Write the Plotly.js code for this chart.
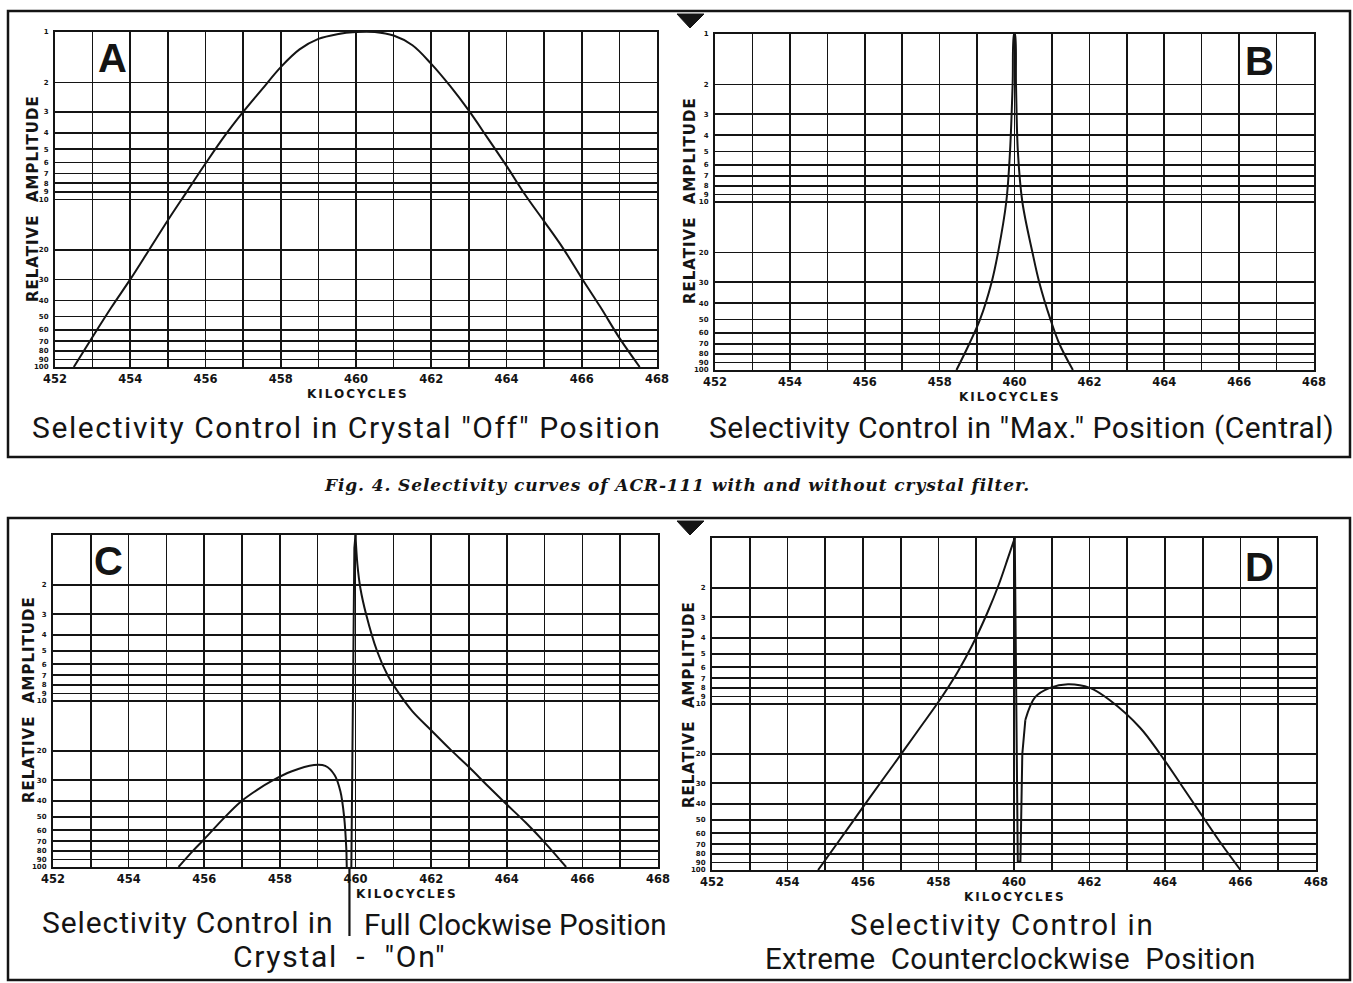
<!DOCTYPE html>
<html>
<head>
<meta charset="utf-8">
<script src="https://cdn.plot.ly/plotly-3.0.1.min.js"></script>
<style>
  html, body { margin: 0; padding: 0; background: #fff; }
  #chart { width: 1353px; height: 983px; }
</style>
</head>
<body>
<div id="chart"></div>
<script>
// ---------------- DATA ----------------
const xTickVals = [452, 454, 456, 458, 460, 462, 464, 466, 468];
const xTickText = ['452', '454', '456', '458', '460', '462', '464', '466', '468'];
const yTickVals = [1, 2, 3, 4, 5, 6, 7, 8, 9, 10, 20, 30, 40, 50, 60, 70, 80, 90, 100];
const yTickTextAB = ['1', '2', '3', '4', '5', '6', '7', '8', '9', '10', '20', '30', '40', '50', '60', '70', '80', '90', '100'];
const yTickTextCD = ['', '2', '3', '4', '5', '6', '7', '8', '9', '10', '20', '30', '40', '50', '60', '70', '80', '90', '100'];

// A: crystal "off"
const aX = [452.50, 453.0, 453.5, 454.0, 454.5, 455.0, 455.5, 456.0, 456.5, 457.0, 457.5, 458.0, 458.5, 459.0, 459.5, 460.0, 460.5, 461.0, 461.5, 462.0, 462.5, 463.0, 463.5, 464.0, 464.5, 465.0, 465.5, 466.0, 466.5, 467.0, 467.54];
const aY = [100, 66, 44, 30, 20, 13.3, 9.0, 6.1, 4.2, 3.0, 2.2, 1.62, 1.27, 1.1, 1.03, 1.0, 1.0, 1.05, 1.2, 1.55, 2.1, 2.95, 4.3, 6.3, 9.4, 13.5, 19.5, 29.5, 44, 67, 100];

// B: "Max." position
const bX = [458.45, 458.79, 459.08, 459.39, 459.56, 459.78, 459.88, 459.95, 459.99, 460.01, 460.04, 460.09, 460.21, 460.48, 460.66, 460.96, 461.20, 461.56];
const bY = [100, 70, 50, 30, 20, 10, 5, 2, 1, 1, 2, 5, 10, 20, 30, 50, 70, 100];

// C: full clockwise
const cHumpX = [455.32, 455.70, 456.00, 456.50, 456.95, 457.40, 457.80, 458.30, 458.90, 459.20, 459.45, 459.60, 459.70, 459.76];
const cHumpY = [100, 80, 68, 51.3, 40.7, 34.3, 30.2, 26.6, 24.3, 24.6, 28, 35, 50, 80];
const cNotchX = [459.76, 459.79, 459.81, 459.86, 459.89, 459.93, 459.97, 460.00];
const cNotchY = [80, 200, 1000, 1000, 100, 10, 1.2, 1.0];
const cTailX = [460.00, 460.05, 460.13, 460.28, 460.57, 460.85, 461.15, 461.50, 462.00, 462.50, 463.00, 463.50, 464.00, 464.50, 465.00, 465.57];
const cTailY = [1.0, 1.5, 2.1, 3.0, 5.0, 7.0, 9.0, 11.5, 15, 19.5, 25, 32.5, 42, 54, 71, 100];
const cNotchExt = [459.84];

// D: extreme counterclockwise
const dRiseX = [454.81, 455.30, 455.90, 456.50, 457.00, 457.50, 458.00, 458.50, 458.90, 459.30, 459.60, 459.85, 460.02];
const dRiseY = [100, 70, 45, 29, 20.2, 14, 9.7, 6.45, 4.4, 2.8, 1.9, 1.3, 1.0];
const dNotchX = [460.02, 460.10, 460.17, 460.22, 460.30];
const dNotchY = [1.0, 89, 89, 20, 12.5];
const dHumpX = [460.30, 460.56, 460.95, 461.43, 462.01, 462.54, 463.34, 463.87, 464.40, 465.06, 465.50, 466.00];
const dHumpY = [12.5, 9.1, 8.0, 7.6, 8.0, 9.5, 13.9, 20, 30, 50, 70, 100];

// ---------------- HELPERS ----------------
const W = 1353, H = 983;
const px = v => v / W;
const py = v => 1 - v / H;
const INK = '#141414';

function curve(x, y, xa, ya, shape) {
  return {
    x: x, y: y, xaxis: xa, yaxis: ya, type: 'scatter', mode: 'lines',
    line: { color: INK, width: 2, shape: shape, smoothing: 1 },
    hoverinfo: 'skip', showlegend: false
  };
}

function xAxis(domain, anchor) {
  return {
    domain: domain, anchor: anchor, range: [452, 468],
    tickmode: 'array', tickvals: xTickVals, ticktext: xTickText,
    showgrid: true, gridcolor: INK, gridwidth: 1.6,
    minor: { tickmode: 'linear', tick0: 452, dtick: 1, showgrid: true, gridcolor: INK, gridwidth: 1.6 },
    showline: true, mirror: true, linecolor: INK, linewidth: 2,
    ticks: '', zeroline: false, fixedrange: true, ticklabelstandoff: 0,
    tickfont: { family: 'DejaVu Sans', size: 11.5, color: INK, weight: 'bold' }
  };
}
function yAxis(domain, anchor, text) {
  return {
    domain: domain, anchor: anchor, type: 'log', range: [2, 0],
    tickmode: 'array', tickvals: yTickVals, ticktext: text,
    showgrid: true, gridcolor: INK, gridwidth: 1.6,
    showline: true, mirror: true, linecolor: INK, linewidth: 2,
    ticks: '', zeroline: false, fixedrange: true, ticklabelstandoff: 3,
    tickfont: { family: 'DejaVu Sans', size: 7, color: INK, weight: 'bold' }
  };
}

const data = [
  curve(aX, aY, 'x', 'y', 'spline'),
  curve(bX, bY, 'x2', 'y2', 'spline'),
  curve(cHumpX, cHumpY, 'x3', 'y3', 'spline'),
  curve(cNotchX, cNotchY, 'x3', 'y3', 'linear'),
  curve(cTailX, cTailY, 'x3', 'y3', 'spline'),
  curve(dRiseX, dRiseY, 'x4', 'y4', 'spline'),
  curve(dNotchX, dNotchY, 'x4', 'y4', 'linear'),
  curve(dHumpX, dHumpY, 'x4', 'y4', 'spline')
];

const sp = (t, ls) => '<span style="letter-spacing:' + ls + 'px">' + t + '</span>';

function ann(text, x, y, font, opts) {
  return Object.assign({
    text: text, xref: 'paper', yref: 'paper', x: px(x), y: py(y),
    xanchor: 'center', yanchor: 'middle', showarrow: false, font: font
  }, opts || {});
}
const boldSans = (s) => ({ family: 'DejaVu Sans', size: s, color: INK, weight: 'bold' });
const letterFont = { family: 'Liberation Sans', size: 40, color: INK, weight: 'bold' };
const cap = (s) => ({ family: 'Roboto', size: s, color: INK });

const annotations = [
  // panel letters
  ann('A', 112, 58, letterFont),
  ann('B', 1259, 61, letterFont),
  ann('C', 108, 561, letterFont),
  ann('D', 1259, 567, letterFont),
  // y titles
  ann(sp('RELATIVE  AMPLITUDE', 1), 33, 199, boldSans(15), { textangle: -90 }),
  ann(sp('RELATIVE  AMPLITUDE', 1), 690, 201, boldSans(15), { textangle: -90 }),
  ann(sp('RELATIVE  AMPLITUDE', 1), 29, 700, boldSans(15), { textangle: -90 }),
  ann(sp('RELATIVE  AMPLITUDE', 1), 689, 705, boldSans(15), { textangle: -90 }),
  // x titles
  ann(sp('KILOCYCLES', 2), 358, 394, boldSans(12)),
  ann(sp('KILOCYCLES', 2), 1010, 397, boldSans(12)),
  ann(sp('KILOCYCLES', 2), 407, 894, boldSans(12)),
  ann(sp('KILOCYCLES', 2), 1015, 897, boldSans(12)),
  // captions
  ann(sp('Selectivity Control in Crystal "Off" Position', 1.6), 346, 427, cap(30)),
  ann(sp('Selectivity Control in "Max." Position (Central)', 0.5), 1021, 428, cap(30)),
  ann(sp('Selectivity Control in', 0.9), 187, 922, cap(30)),
  ann(sp('Full Clockwise Position', 0), 515, 925, cap(29.5)),
  ann(sp('Crystal  -  "On"', 1.7), 339, 956, cap(30)),
  ann(sp('Selectivity Control in', 1.7), 1002, 925, cap(29.5)),
  ann(sp('Extreme  Counterclockwise  Position', 0.35), 1010, 959, cap(29.5)),
  // figure caption
  ann(sp('Fig. 4. Selectivity curves of ACR-111 with and without crystal filter.', 0.9), 677, 485,
      { family: 'DejaVu Serif', size: 17, color: INK, weight: 'bold', style: 'italic' })
];

const shapes = [
  // outer frames
  { type: 'rect', xref: 'paper', yref: 'paper', x0: px(8), x1: px(1350), y0: py(457), y1: py(11),
    line: { color: INK, width: 2.5 } },
  { type: 'rect', xref: 'paper', yref: 'paper', x0: px(8), x1: px(1350), y0: py(980), y1: py(518),
    line: { color: INK, width: 2.5 } },
  // triangles
  { type: 'path', xref: 'paper', yref: 'paper',
    path: 'M ' + px(677) + ' ' + py(14) + ' L ' + px(704) + ' ' + py(14) + ' L ' + px(690) + ' ' + py(28) + ' Z',
    fillcolor: INK, line: { color: INK, width: 1 } },
  { type: 'path', xref: 'paper', yref: 'paper',
    path: 'M ' + px(677) + ' ' + py(521) + ' L ' + px(704) + ' ' + py(521) + ' L ' + px(690) + ' ' + py(535) + ' Z',
    fillcolor: INK, line: { color: INK, width: 1 } },
  // continuation of the C notch below the plot
  { type: 'line', xref: 'x3', yref: 'paper', x0: cNotchExt[0], x1: cNotchExt[0], y0: py(867), y1: py(936),
    line: { color: INK, width: 2.2 } }
];

const layout = {
  width: W, height: H,
  margin: { l: 0, r: 0, t: 0, b: 0 },
  paper_bgcolor: '#ffffff', plot_bgcolor: '#ffffff',
  showlegend: false,
  xaxis: xAxis([px(55), px(657)], 'y'),
  yaxis: yAxis([py(367), py(32)], 'x', yTickTextAB),
  xaxis2: xAxis([px(715), px(1314)], 'y2'),
  yaxis2: yAxis([py(370), py(34)], 'x2', yTickTextAB),
  xaxis3: xAxis([px(53), px(658)], 'y3'),
  yaxis3: yAxis([py(867), py(535)], 'x3', yTickTextCD),
  xaxis4: xAxis([px(712), px(1316)], 'y4'),
  yaxis4: yAxis([py(870), py(538)], 'x4', yTickTextCD),
  annotations: annotations,
  shapes: shapes
};

Plotly.newPlot('chart', data, layout, { staticPlot: true, displayModeBar: false });
</script>
</body>
</html>
